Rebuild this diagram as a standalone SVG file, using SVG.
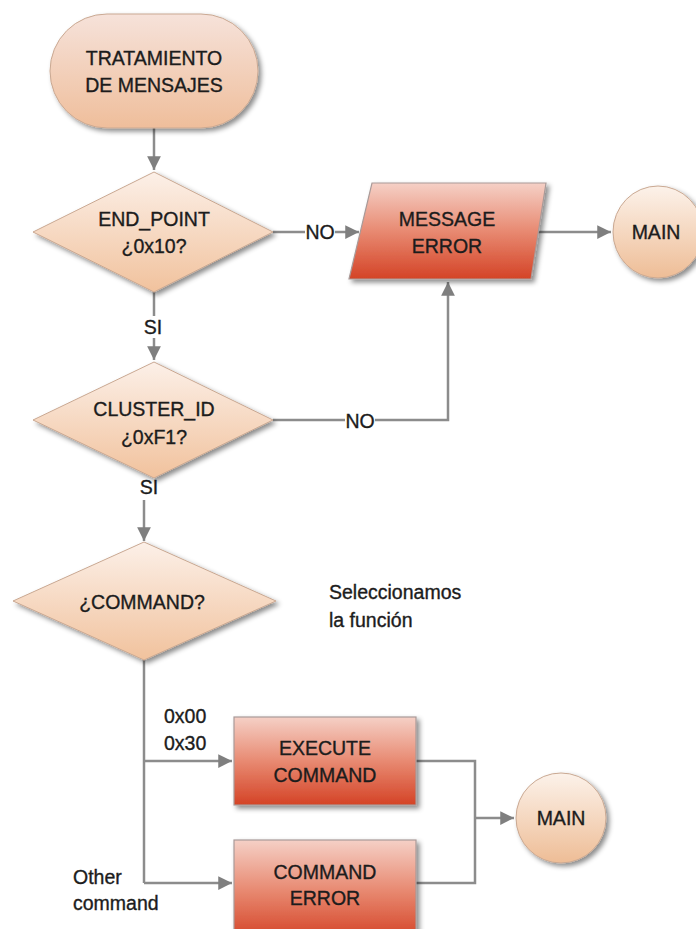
<svg xmlns="http://www.w3.org/2000/svg" width="696" height="929" viewBox="0 0 696 929">
  <style>
    text { font-family: "Liberation Sans", Arial, sans-serif; font-size: 19.5px; fill: #1c1c1c; stroke: #1c1c1c; stroke-width: 0.35px; }
    .c { text-anchor: middle; }
    .bg { fill: #ffffff; stroke: none; }
    .edge { fill: none; stroke: #8c8c8c; stroke-width: 2.5; }
    .arr { marker-end: url(#head); }
    .soft { fill: url(#peach); stroke: #c9a892; stroke-width: 1; filter: url(#shadow); }
    .dia { fill: url(#peachDia); stroke: #c9a892; stroke-width: 1; filter: url(#shadow); }
    .red { fill: url(#redGrad); stroke: #a99a98; stroke-width: 1.2; filter: url(#shadow); }
    .ball { fill: url(#ballGrad); stroke: #c9a892; stroke-width: 1; filter: url(#shadow); }
  </style>
  <defs>
    <linearGradient id="peach" x1="0" y1="0" x2="0" y2="1">
      <stop offset="0" stop-color="#f6e2da"/>
      <stop offset="1" stop-color="#efbe9b"/>
    </linearGradient>
    <linearGradient id="peachDia" x1="0" y1="0" x2="0" y2="1">
      <stop offset="0" stop-color="#fcf0e8"/>
      <stop offset="1" stop-color="#f1c29d"/>
    </linearGradient>
    <linearGradient id="redGrad" x1="0" y1="0" x2="0" y2="1">
      <stop offset="0" stop-color="#f5d0c6"/>
      <stop offset="0.5" stop-color="#e88a72"/>
      <stop offset="1" stop-color="#d44326"/>
    </linearGradient>
    <linearGradient id="ballGrad" x1="0" y1="0" x2="0" y2="1">
      <stop offset="0" stop-color="#fcf2ea"/>
      <stop offset="1" stop-color="#eebd96"/>
    </linearGradient>
    <filter id="shadow" x="-20%" y="-20%" width="140%" height="140%">
      <feDropShadow dx="3" dy="3" stdDeviation="2.5" flood-color="#000" flood-opacity="0.45"/>
    </filter>
    <marker id="head" viewBox="0 0 10 10" refX="10" refY="5" markerWidth="6" markerHeight="5.5" orient="auto" markerUnits="strokeWidth">
      <path d="M0,0 L10,5 L0,10 z" fill="#7f7f7f"/>
    </marker>
  </defs>

  <!-- connectors and their branch labels -->
  <g id="connectors">
    <path class="edge arr" d="M154 128 V170"/>
    <path class="edge arr" d="M273 232 H359"/>
    <path class="edge arr" d="M538 232 H611"/>
    <path class="edge arr" d="M154 292 V360"/>
    <path class="edge arr" d="M273 420 H448 V282"/>
    <path class="edge arr" d="M144 478 V541"/>
    <path class="edge" d="M144 660 V883"/>
    <path class="edge arr" d="M144 761 H232"/>
    <path class="edge arr" d="M144 883 H232"/>
    <path class="edge" d="M416 761 H475 V883 H416"/>
    <path class="edge arr" d="M475 818 H514"/>
    <rect class="bg" x="305" y="222" width="30" height="20"/>
    <text class="c" x="320" y="238.5">NO</text>
    <rect class="bg" x="143" y="316" width="20" height="22"/>
    <text class="c" x="153" y="333.5">SI</text>
    <rect class="bg" x="345" y="411" width="30" height="20"/>
    <text class="c" x="360" y="427.5">NO</text>
    <rect class="bg" x="139" y="478" width="20" height="22"/>
    <text class="c" x="149" y="493.5">SI</text>
  </g>

  <g id="start">
    <rect class="soft" x="50" y="14" width="208" height="114" rx="57" ry="57"/>
    <text class="c" x="154" y="65">TRATAMIENTO</text>
    <text class="c" x="154" y="92">DE MENSAJES</text>
  </g>

  <g id="endpoint">
    <polygon class="dia" points="154,172 273,232 154,292 33,232"/>
    <text class="c" x="154" y="225.5">END_POINT</text>
    <text class="c" x="154" y="252.5">¿0x10?</text>
  </g>

  <g id="message-error">
    <polygon class="red" points="372,183 546,183 531,279 349,279"/>
    <text class="c" x="447" y="225.5">MESSAGE</text>
    <text class="c" x="447" y="252.5">ERROR</text>
  </g>

  <g id="main-top">
    <ellipse class="ball" cx="658" cy="232" rx="45" ry="46"/>
    <text class="c" x="656" y="238.5">MAIN</text>
  </g>

  <g id="cluster">
    <polygon class="dia" points="154,362 273,420 154,478 33,420"/>
    <text class="c" x="154" y="415.5">CLUSTER_ID</text>
    <text class="c" x="154" y="443.5">¿0xF1?</text>
  </g>

  <g id="command">
    <polygon class="dia" points="144,542 276,601 144,660 13,601"/>
    <text class="c" x="142" y="608.5">¿COMMAND?</text>
  </g>

  <g id="note">
    <text x="329" y="598.5">Seleccionamos</text>
    <text x="329" y="626.5">la función</text>
  </g>

  <g id="case-labels">
    <text x="164" y="722.5">0x00</text>
    <text x="164" y="749.5">0x30</text>
    <text x="73" y="883.5">Other</text>
    <text x="73" y="909.5">command</text>
  </g>

  <g id="execute">
    <rect class="red" x="234" y="717" width="182" height="88"/>
    <text class="c" x="325" y="754.5">EXECUTE</text>
    <text class="c" x="325" y="781.5">COMMAND</text>
  </g>

  <g id="command-error">
    <rect class="red" x="234" y="840" width="182" height="100"/>
    <text class="c" x="325" y="878.5">COMMAND</text>
    <text class="c" x="325" y="904.5">ERROR</text>
  </g>

  <g id="main-bottom">
    <ellipse class="ball" cx="561" cy="818" rx="45" ry="45"/>
    <text class="c" x="561" y="824.5">MAIN</text>
  </g>
</svg>
